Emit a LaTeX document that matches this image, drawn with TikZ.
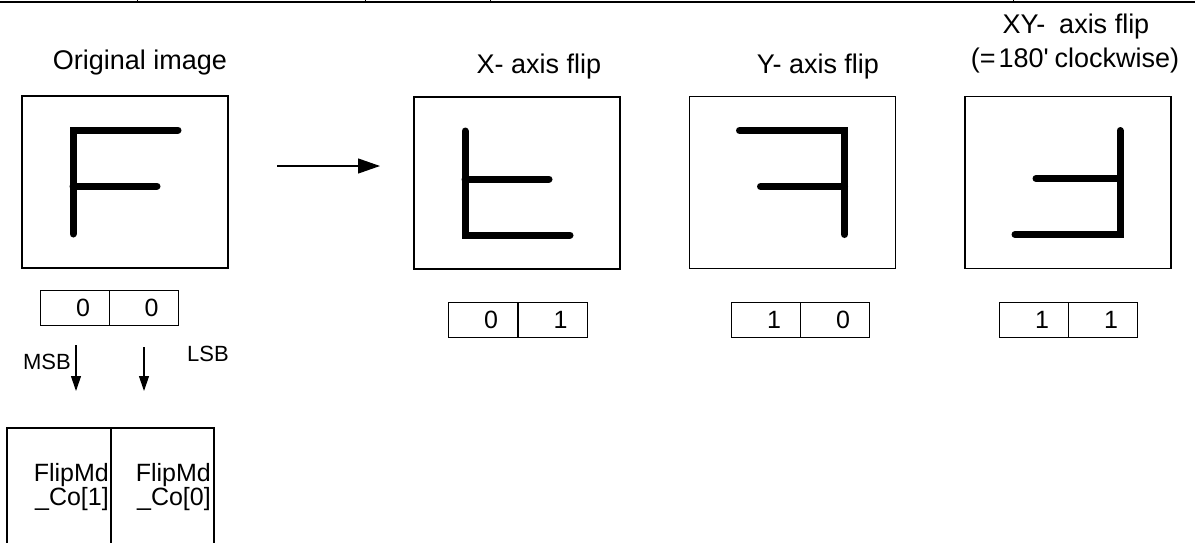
\documentclass[tikz,border=0pt]{standalone}
\usepackage{fontspec}
\setmainfont{Liberation Sans}
\usetikzlibrary{arrows.meta}

% the letter drawn in every picture box
\newcommand{\letterF}{%
  \draw[stroke] (53,-52) -- (-52,-52) -- (-52,52);
  \draw[stroke] (-52,4) -- (32,4);
}

\begin{document}
\begin{tikzpicture}[x=1pt, y=-1pt,
    imgbox/.style={rectangle, draw, line width=1.2pt, minimum width=206pt,
                   minimum height=172pt},
    bit/.style={rectangle, draw, line width=1pt, minimum width=69pt,
                minimum height=35pt, text width=30pt, align=right, inner sep=0pt,
                font=\fontsize{25}{25}\selectfont},
    title/.style={font=\fontsize{27}{27}\selectfont, anchor=base, inner sep=0pt},
    stroke/.style={line width=7pt, line cap=round, line join=miter},
    field/.style={anchor=east, align=right, inner sep=0pt,
                  font=\fontsize{25}{23}\selectfont},
    arrow/.style={-{Triangle[length=22pt, width=15pt]}, line width=1.2pt},
    smallarrow/.style={-{Triangle[length=15pt, width=10pt]}, line width=1.2pt}
]
\useasboundingbox (0,0) rectangle (1195,542);

% table rule at the top
\draw[line width=2.5pt] (0,2) -- (1195,2);
\foreach \x in {137,365,490,1013}
  \draw[line width=1pt] (\x,0) -- (\x,2);

% Original
\node[title] (t0) at (140,69) {Original image};
\node[imgbox] (orig) at (125,182) {};
\begin{scope}[shift={(orig.center)}]
  \letterF
\end{scope}
\node[bit] (o1) at (75,308) {0};
\node[bit] (o2) at (143.5,308) {0};

% MSB / LSB
\node[font=\fontsize{22}{22}\selectfont, inner sep=0pt] (msb) at (47,362) {MSB};
\node[font=\fontsize{22}{22}\selectfont, inner sep=0pt] (lsb) at (208,354) {LSB};
\coordinate (msbS) at (76,345);
\coordinate (msbE) at (76,391);
\coordinate (lsbS) at (144,347);
\coordinate (lsbE) at (144,391);
\draw[smallarrow] (msbS) -- (msbE);
\draw[smallarrow] (lsbS) -- (lsbE);

% register fields
\draw[line width=1.2pt] (7,545) -- (7,428) -- (214,428) -- (214,545);
\draw[line width=1.2pt] (111,428) -- (111,545);
\node[field] (f1) at (109,487) {FlipMd\\\_Co[1]};
\node[field] (f0) at (211,487) {FlipMd\\\_Co[0]};

% arrow
\coordinate (aS) at (277,166);
\coordinate (aE) at (380,166);
\draw[arrow] (aS) -- (aE);

% X-axis flip
\node[title] (t1) at (539,73) {X- axis flip};
\node[imgbox] (xflip) at (517,183) {};
\begin{scope}[shift={(xflip.center)}, yscale=-1]
  \letterF
\end{scope}
\node[bit] (x1) at (483,319.5) {0};
\node[bit] (x2) at (552.5,319.5) {1};

% Y-axis flip
\node[title] (t2) at (818,73) {Y- axis flip};
\node[imgbox] (yflip) at (792.5,182.5) {};
\begin{scope}[shift={(yflip.center)}, xscale=-1]
  \letterF
\end{scope}
\node[bit] (y1) at (766,319.5) {1};
\node[bit] (y2) at (835,319.5) {0};

% XY-axis flip
\node[title] (t3) at (1076,33) {XY-\hspace{14pt}axis flip};
\node[title] (t3b) at (1075,67) {(=\hspace{3pt}180\textquotesingle\hspace{6pt}clockwise)};
\node[imgbox] (xyflip) at (1068,182.5) {};
\begin{scope}[shift={(xyflip.center)}, xscale=-1, yscale=-1]
  \letterF
\end{scope}
\node[bit] (xy1) at (1034,319.5) {1};
\node[bit] (xy2) at (1103,319.5) {1};
\end{tikzpicture}
\end{document}
